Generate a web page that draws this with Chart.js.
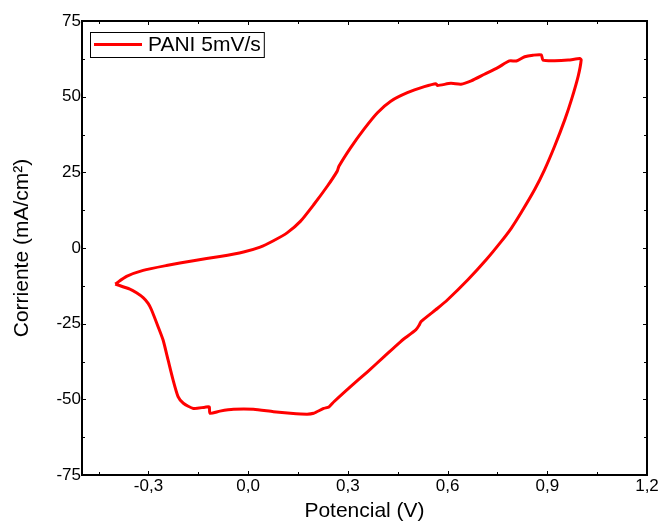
<!DOCTYPE html>
<html>
<head>
<meta charset="utf-8">
<script src="https://cdn.jsdelivr.net/npm/chart.js@4.4.0/dist/chart.umd.min.js"></script>
<style>
body { margin: 0; background: #fff; }
</style>
</head>
<body>
<canvas id="cv" width="661" height="524"></canvas>
<script>
// voltametria ciclica PANI, 5 mV/s
const potencial = [
    -0.400, -0.366, -0.316, -0.246, -0.165, -0.085, -0.014, 0.036, 0.076, 0.117,
    0.157, 0.197, 0.238, 0.268, 0.273, 0.308, 0.348, 0.389, 0.429, 0.479,
    0.530, 0.565, 0.570, 0.610, 0.640, 0.671, 0.711, 0.751, 0.786, 0.807,
    0.832, 0.857, 0.882, 0.887, 0.922, 0.963, 0.998, 1.002,
    0.993, 0.973, 0.953, 0.922, 0.892, 0.862, 0.822, 0.792, 0.761, 0.716,
    0.661, 0.600, 0.570, 0.520, 0.515, 0.505, 0.459, 0.409, 0.359, 0.308,
    0.258, 0.243, 0.227, 0.197, 0.177, 0.127, 0.076, 0.016, -0.044, -0.085,
    -0.115, -0.117, -0.130, -0.165, -0.195, -0.211, -0.226, -0.241, -0.256, -0.271,
    -0.291, -0.301, -0.316, -0.336, -0.356, -0.400
]
const corriente = [
    -11.9, -9.4, -7.4, -5.8, -4.2, -2.8, -1.3, 0.3, 2.4, 5.0,
    8.8, 14.3, 20.4, 25.4, 27.0, 33.1, 39.2, 44.7, 48.5, 51.3,
    53.3, 54.3, 53.7, 54.4, 54.1, 55.2, 57.4, 59.6, 61.8, 61.8,
    63.2, 63.7, 63.8, 62.1, 61.9, 62.1, 62.6, 62.2,
    56.8, 49.1, 42.5, 33.6, 25.9, 19.3, 11.8, 6.6, 2.1, -3.9,
    -10.5, -17.1, -19.9, -24.3, -25.4, -27.0, -30.9, -35.9, -40.9, -45.8,
    -50.8, -52.5, -53.0, -54.6, -54.9, -54.6, -54.1, -53.3, -53.3, -53.9,
    -54.6, -52.5, -52.6, -53.0, -51.3, -49.1, -43.6, -37.0, -30.4, -26.0,
    -20.4, -18.3, -16.4, -14.8, -13.6, -11.9
]
const xTicks = [-0.3, 0, 0.3, 0.6, 0.9, 1.2]
const xMinor = [-0.45, -0.15, 0.15, 0.45, 0.75, 1.05]
const yTicks = [-75, -50, -25, 0, 25, 50, 75]
const yMinor = [-62.5, -37.5, -12.5, 12.5, 37.5, 62.5]

const fontFam = "'Liberation Sans', Arial, sans-serif"
Chart.defaults.color = '#000'
Chart.defaults.font.family = fontFam

const points = potencial.map((v, i) => ({x: v, y: corriente[i]}))

// marco negro, marcas hacia dentro y leyenda con caja
const frame = {
    id: 'frame',
    afterDraw(chart) {
        const {ctx, chartArea: a, scales: {x, y}} = chart
        ctx.save()
        ctx.strokeStyle = '#000'
        ctx.lineWidth = 1
        ctx.beginPath()
        const vt = (vals, len) => vals.forEach(v => {
            const px = Math.round(x.getPixelForValue(v)) + 0.5
            ctx.moveTo(px, a.bottom); ctx.lineTo(px, a.bottom - len)
            ctx.moveTo(px, a.top); ctx.lineTo(px, a.top + len)
        })
        const ht = (vals, len) => vals.forEach(v => {
            const py = Math.round(y.getPixelForValue(v)) + 0.5
            ctx.moveTo(a.left, py); ctx.lineTo(a.left + len, py)
            ctx.moveTo(a.right, py); ctx.lineTo(a.right - len, py)
        })
        vt(xTicks, 4); vt(xMinor, 3)
        ht(yTicks, 4); ht(yMinor, 3)
        ctx.stroke()
        ctx.lineWidth = 2
        ctx.strokeRect(a.left, a.top, a.width, a.height)

        // leyenda
        const ds = chart.data.datasets[0]
        const lx = a.left + 8, ly = a.top + 11
        ctx.font = '21px ' + fontFam
        const tw = ctx.measureText(ds.label).width
        ctx.lineWidth = 1
        ctx.strokeRect(lx + 0.5, ly + 0.5, 58 + tw + 3, 25)
        ctx.strokeStyle = ds.borderColor
        ctx.lineWidth = 3
        ctx.beginPath()
        ctx.moveTo(lx + 4, ly + 12.5)
        ctx.lineTo(lx + 52, ly + 12.5)
        ctx.stroke()
        ctx.fillStyle = '#000'
        ctx.textBaseline = 'middle'
        ctx.fillText(ds.label, lx + 58, ly + 13.5)
        ctx.restore()
    }
}

new Chart(document.getElementById('cv'), {
    type: 'scatter',
    data: {
        datasets: [{
            label: 'PANI 5mV/s',
            data: points,
            showLine: true,
            borderColor: '#ff0000',
            backgroundColor: '#ff0000',
            borderWidth: 3,
            pointRadius: 0,
            tension: 0.2
        }]
    },
    options: {
        responsive: false,
        animation: false,
        layout: {padding: {top: 21, right: 14, bottom: 0, left: 0}},
        plugins: {
            tooltip: {enabled: false},
            legend: {display: false}
        },
        scales: {
            x: {
                type: 'linear',
                min: -0.5,
                max: 1.2,
                grid: {display: false, drawTicks: false},
                border: {display: false},
                afterBuildTicks: s => { s.ticks = xTicks.map(v => ({value: v})) },
                afterFit: s => { s.height = 49 },
                ticks: {
                    padding: 1,
                    autoSkip: false,
                    maxRotation: 0,
                    font: {size: 17},
                    callback: v => v.toFixed(1).replace('.', ',')
                },
                title: {
                    display: true,
                    text: 'Potencial (V)',
                    font: {size: 21},
                    padding: {top: 0, bottom: 0}
                }
            },
            y: {
                type: 'linear',
                min: -75,
                max: 75,
                grid: {display: false, drawTicks: false},
                border: {display: false},
                afterBuildTicks: s => { s.ticks = yTicks.map(v => ({value: v})) },
                afterFit: s => { s.width = 82 },
                ticks: {
                    padding: 1,
                    font: {size: 17},
                    callback: v => String(v)
                },
                title: {
                    display: true,
                    text: 'Corriente (mA/cm²)',
                    font: {size: 21},
                    padding: {top: 10, bottom: 0}
                }
            }
        }
    },
    plugins: [frame]
})
</script>
</body>
</html>
